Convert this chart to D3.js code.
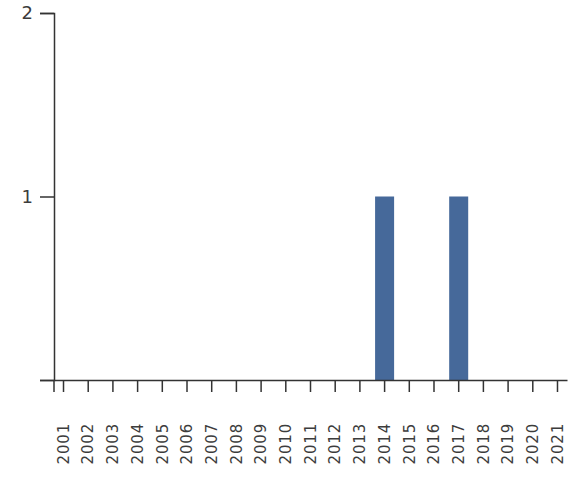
<!DOCTYPE html>
<html>
<head>
<meta charset="utf-8">
<script src="https://cdn.jsdelivr.net/npm/d3@7"></script>
<style>
  body { margin: 0; background: #fff; }
  .axis path, .axis line { stroke: #333; stroke-width: 1.5; }
  .axis text { fill: #3c3c3c; font-family: "DejaVu Sans", sans-serif; }
</style>
</head>
<body>
<svg id="chart" width="568" height="479"></svg>
<script>
// datos del grafico
var years = ["2001","2002","2003","2004","2005","2006","2007","2008","2009","2010",
             "2011","2012","2013","2014","2015","2016","2017","2018","2019","2020","2021"];
var counts = [0,0,0,0,0,0,0,0,0,0,0,0,0,1,0,0,1,0,0,0,0];
var yTicks = [0, 1, 2];

var svg = d3.select("#chart");
var mLeft = 54, mTop = 13, mBottom = 380, mRight = 567;

var x = d3.scaleBand()
  .domain(years)
  .range([mLeft, mRight])
  .paddingInner(0.23)
  .paddingOuter(0);

var y = d3.scaleLinear()
  .domain([0, 2])
  .range([mBottom, mTop]);

/* barras */
svg.append("g").selectAll("rect")
  .data(years)
  .enter().append("rect")
  .attr("x", function(d) { return x(d); })
  .attr("y", function(d, i) { return y(counts[i]); })
  .attr("width", x.bandwidth())
  .attr("height", function(d, i) { return y(0) - y(counts[i]); })
  .attr("fill", "#46699a");

/* eje x */
var gx = svg.append("g")
  .attr("class", "axis")
  .attr("transform", "translate(0," + mBottom + ")")
  .call(d3.axisBottom(x).tickSize(12).tickSizeOuter(0));

gx.selectAll("text")
  .style("font-size", "15px")
  .style("letter-spacing", "0.8px")
  .attr("text-anchor", "end")
  .attr("transform", "translate(0,43) rotate(-90)")
  .attr("x", 0)
  .attr("y", 0)
  .attr("dy", "0.35em");

// pequeña prolongacion del eje en la esquina
gx.append("line")
  .attr("x1", mLeft).attr("x2", mLeft)
  .attr("y1", 0).attr("y2", 12);

/* eje y */
var gy = svg.append("g")
  .attr("class", "axis")
  .attr("transform", "translate(" + mLeft + ",0)")
  .call(d3.axisLeft(y)
    .tickValues(yTicks)
    .tickSize(14)
    .tickSizeOuter(14)
    .tickFormat(function(d) { return d === 0 ? "" : d; }));

gy.selectAll("text")
  .style("font-size", "18px")
  .attr("x", -21);
</script>
</body>
</html>
